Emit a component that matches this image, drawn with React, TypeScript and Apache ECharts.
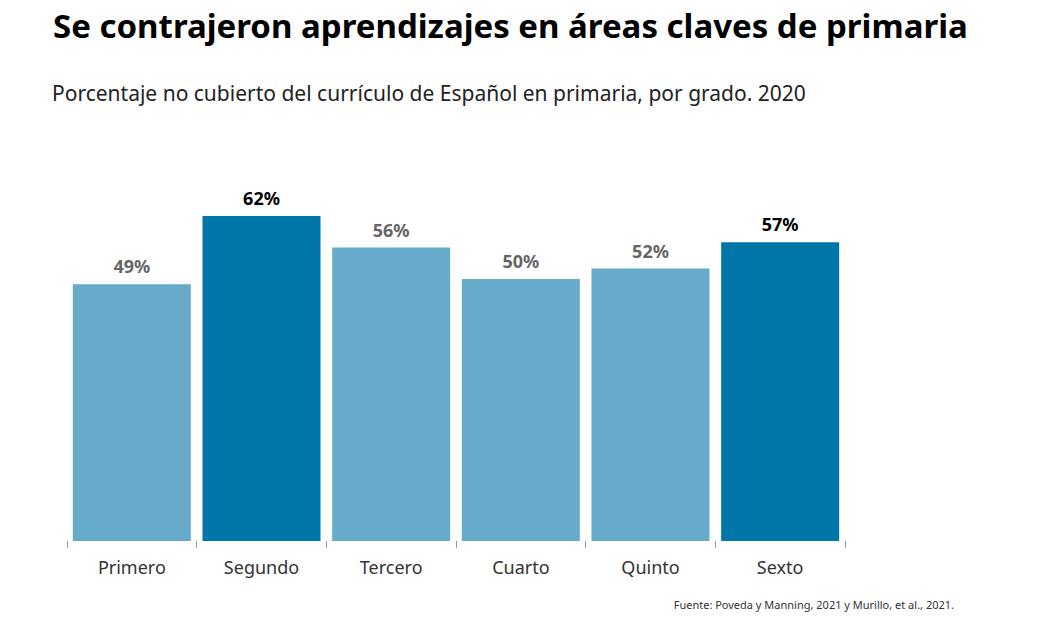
import React, { useEffect, useRef } from "react";
import * as echarts from "echarts";

const grades = ["Primero", "Segundo", "Tercero", "Cuarto", "Quinto", "Sexto"];
const uncovered = [49, 62, 56, 50, 52, 57];
const highlighted = [false, true, false, false, false, true];

const LIGHT = "#67abca";
const DARK = "#0075a8";
const FONT = "'Noto Sans', 'Open Sans', sans-serif";

export default function App() {
  const ref = useRef<HTMLDivElement>(null);

  useEffect(() => {
    if (!ref.current) return;
    const chart = echarts.init(ref.current, null, { renderer: "svg" });
    chart.setOption({
      animation: false,
      backgroundColor: "#ffffff",
      textStyle: { fontFamily: FONT },
      title: [
        {
          text: "Se contrajeron aprendizajes en áreas claves de primaria",
          left: 48,
          top: 4,
          textStyle: { fontFamily: FONT, fontWeight: "bold", fontSize: 33, color: "#000" },
        },
        {
          text: "Porcentaje no cubierto del currículo de Español en primaria, por grado. 2020",
          left: 47,
          top: 77,
          textStyle: { fontFamily: FONT, fontWeight: "normal", fontSize: 21, color: "#222" },
        },
        {
          text: "Fuente: Poveda y Manning, 2021 y Murillo, et al., 2021.",
          right: 95,
          top: 594,
          textStyle: { fontFamily: FONT, fontWeight: "normal", fontSize: 11, color: "#333" },
        },
      ],
      grid: { left: 67, right: 209, top: 17, bottom: 87 },
      xAxis: {
        type: "category",
        data: grades,
        offset: 5,
        axisLine: { show: false },
        axisTick: { show: true, length: 7, lineStyle: { color: "#999", width: 1 } },
        axisLabel: { fontFamily: FONT, fontSize: 18, color: "#333", margin: 12 },
      },
      yAxis: {
        type: "value",
        min: 0,
        max: 100,
        show: false,
        splitLine: { show: false },
      },
      series: [
        {
          type: "bar",
          barWidth: 118,
          data: uncovered.map((v, i) => ({
            value: v,
            itemStyle: { color: highlighted[i] ? DARK : LIGHT },
            label: { color: highlighted[i] ? "#000" : "#666" },
          })),
          label: {
            show: true,
            position: "top",
            distance: 9,
            formatter: "{c}%",
            fontFamily: FONT,
            fontWeight: "bold",
            fontSize: 18,
          },
        },
      ],
    });
    return () => chart.dispose();
  }, []);

  return (
    <div
      ref={ref}
      style={{ position: "fixed", left: 0, top: 0, width: 1054, height: 628 }}
    />
  );
}
